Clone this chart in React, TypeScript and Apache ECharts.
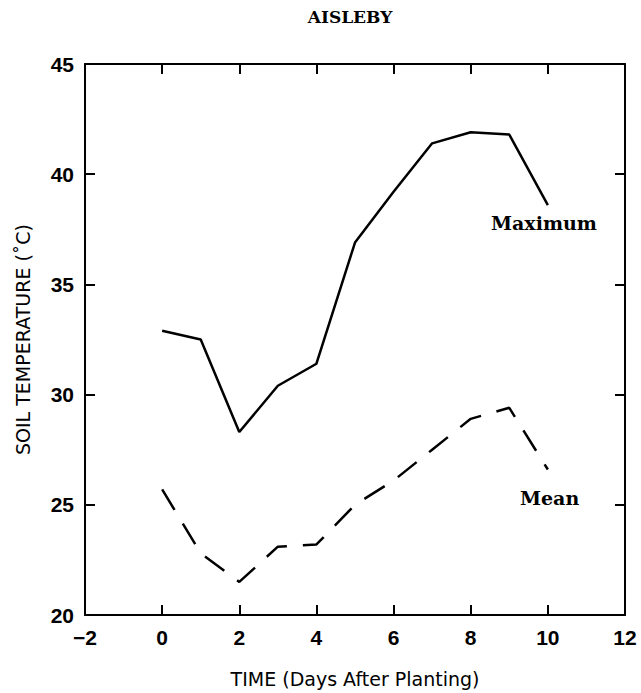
import React, { useEffect, useRef } from "react";
import * as echarts from "echarts";

// Days after planting
const days = [0, 1, 2, 3, 4, 5, 6, 7, 8, 9, 10];
// Daily maximum soil temperature (°C)
const maximumTemp = [32.9, 32.5, 28.3, 30.4, 31.4, 36.9, 39.2, 41.4, 41.9, 41.8, 38.6];
// Daily mean soil temperature (°C)
const meanTemp = [25.7, 22.8, 21.5, 23.1, 23.2, 25.0, 26.1, 27.5, 28.9, 29.4, 26.6];

const xTicks = { min: -2, max: 12, interval: 2 };
const yTicks = { min: 20, max: 45, interval: 5 };

const SANS = "'DejaVu Sans', 'Liberation Sans', Arial, sans-serif";
const NARROW = "'Liberation Sans Narrow', 'Liberation Sans', Arial, sans-serif";
const SERIF = "'DejaVu Serif', serif";

const axisLine = { show: true, onZero: false, lineStyle: { color: "#000", width: 2 } };
const axisTick = { show: true, inside: true, length: 10, lineStyle: { color: "#000", width: 2 } };

export default function App() {
  const ref = useRef<HTMLDivElement>(null);

  useEffect(() => {
    if (!ref.current) return;
    const chart = echarts.init(ref.current, null, { renderer: "svg" });

    const tickLabel = {
      color: "#000",
      fontFamily: NARROW,
      fontWeight: "bold",
      fontSize: 21,
      formatter: (v: number) => String(v).replace("-", "\u2212"),
    };

    chart.setOption({
      animation: false,
      backgroundColor: "#fff",
      grid: { left: 85, right: 16, top: 64, bottom: 77, containLabel: false },
      xAxis: [
        {
          type: "value",
          position: "bottom",
          ...xTicks,
          axisLine,
          axisTick,
          splitLine: { show: false },
          axisLabel: { ...tickLabel, margin: 12 },
          name: "TIME (Days After Planting)",
          nameLocation: "middle",
          nameGap: 54,
          nameTextStyle: { color: "#000", fontFamily: SANS, fontSize: 19 },
        },
        {
          type: "value",
          position: "top",
          ...xTicks,
          axisLine,
          axisTick,
          splitLine: { show: false },
          axisLabel: { show: false },
        },
      ],
      yAxis: [
        {
          type: "value",
          position: "left",
          ...yTicks,
          axisLine,
          axisTick,
          splitLine: { show: false },
          axisLabel: { ...tickLabel, margin: 11 },
          name: "SOIL TEMPERATURE (\u02DAC)",
          nameLocation: "middle",
          nameGap: 53,
          nameTextStyle: { color: "#000", fontFamily: SANS, fontSize: 19 },
        },
        {
          type: "value",
          position: "right",
          ...yTicks,
          axisLine,
          axisTick,
          splitLine: { show: false },
          axisLabel: { show: false },
        },
      ],
      series: [
        {
          name: "Maximum",
          type: "line",
          data: days.map((d, i) => [d, maximumTemp[i]]),
          showSymbol: false,
          lineStyle: { color: "#000", width: 2.5 },
        },
        {
          name: "Mean",
          type: "line",
          data: days.map((d, i) => [d, meanTemp[i]]),
          showSymbol: false,
          lineStyle: { color: "#000", width: 2.5, type: [24, 16] },
        },
      ],
      graphic: [
        {
          type: "text",
          x: 350,
          y: 17,
          style: {
            text: "AISLEBY",
            font: `bold 17px ${SERIF}`,
            fill: "#000",
            align: "center",
            verticalAlign: "middle",
          },
        },
        {
          type: "text",
          x: 491,
          y: 223,
          style: {
            text: "Maximum",
            font: `bold 19px ${SERIF}`,
            fill: "#000",
            align: "left",
            verticalAlign: "middle",
          },
        },
        {
          type: "text",
          x: 520,
          y: 498,
          style: {
            text: "Mean",
            font: `bold 19px ${SERIF}`,
            fill: "#000",
            align: "left",
            verticalAlign: "middle",
          },
        },
      ],
    });

    return () => chart.dispose();
  }, []);

  return (
    <div
      ref={ref}
      style={{ position: "fixed", left: 0, top: 0, width: 641, height: 693, background: "#fff" }}
    />
  );
}
